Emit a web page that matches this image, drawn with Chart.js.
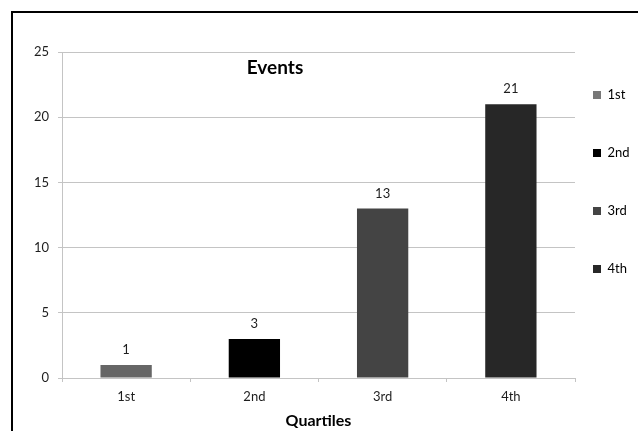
<!DOCTYPE html>
<html>
<head>
<meta charset="utf-8">
<script src="https://cdn.jsdelivr.net/npm/chart.js@4"></script>
<style>
  html, body { margin: 0; padding: 0; background: #fff; overflow: hidden; }
  #wrap { position: relative; width: 638px; height: 431px; overflow: hidden; }
  #frame { position: absolute; left: 11px; top: 11px; width: 700px; height: 500px;
           border: 2px solid #000; box-sizing: border-box; }
  canvas { position: absolute; left: 0; top: 0; }
</style>
</head>
<body>
<div id="wrap">
  <div id="frame"></div>
  <canvas id="chart" width="638" height="431"></canvas>
</div>
<script>
// Event counts per quartile
const quartiles = ['1st', '2nd', '3rd', '4th'];
const events = [1, 3, 13, 21];
const barColors = ['#666666', '#000000', '#444444', '#272727'];
const legendColors = ['#787878', '#000000', '#444444', '#272727'];
const yMin = 0;
const yMax = 25;
const yStep = 5;
const chartTitle = 'Events';
const xAxisTitle = 'Quartiles';

const FONT = 'Lato, "Liberation Sans", sans-serif';
const GRID = '#c4c4c4';
const TEXT = '#1e1e1e';

// Value printed above each bar
const valueLabels = {
  id: 'valueLabels',
  afterDatasetsDraw(chart) {
    const ctx = chart.ctx;
    const meta = chart.getDatasetMeta(0);
    ctx.save();
    ctx.font = '13px ' + FONT;
    ctx.fillStyle = TEXT;
    ctx.textAlign = 'center';
    ctx.textBaseline = 'middle';
    meta.data.forEach((bar, i) => {
      ctx.fillText(String(chart.data.datasets[0].data[i]), bar.x, bar.y - 15);
    });
    ctx.restore();
  }
};

// Chart title drawn inside the plot area
const innerTitle = {
  id: 'innerTitle',
  afterDatasetsDraw(chart) {
    const { ctx, chartArea } = chart;
    ctx.save();
    ctx.font = 'bold 19px ' + FONT;
    ctx.fillStyle = '#000';
    ctx.textAlign = 'center';
    ctx.textBaseline = 'middle';
    ctx.fillText(chartTitle, chartArea.left + 213, chartArea.top + 16);
    ctx.restore();
  }
};

// Legend sits close to the plot with widely spaced entries
const legendPlacement = {
  id: 'legendPlacement',
  afterLayout(chart) {
    const lg = chart.legend;
    const pad = lg.options.labels.padding;
    lg.left = chart.chartArea.right + 18 - pad;
    lg.top = chart.chartArea.top + 36.5 - pad;
  }
};

new Chart(document.getElementById('chart'), {
  type: 'bar',
  data: {
    labels: quartiles,
    datasets: [{
      label: chartTitle,
      data: events,
      backgroundColor: barColors,
      borderWidth: 0,
      categoryPercentage: 1.0,
      barPercentage: 0.4
    }]
  },
  options: {
    responsive: false,
    devicePixelRatio: 1,
    animation: false,
    layout: { padding: { top: 52, left: 0, right: 0, bottom: 0 } },
    plugins: {
      title: { display: false },
      tooltip: { enabled: false },
      legend: {
        display: true,
        position: 'right',
        align: 'start',
        maxWidth: 63,
        labels: {
          boxWidth: 8,
          boxHeight: 8,
          padding: 45,
          color: TEXT,
          font: { family: FONT, size: 13 },
          generateLabels: () => quartiles.map((q, i) => ({
            text: q,
            fillStyle: legendColors[i],
            strokeStyle: legendColors[i],
            lineWidth: 0,
            hidden: false,
            index: i
          }))
        }
      }
    },
    scales: {
      x: {
        grid: {
          offset: true,
          drawOnChartArea: false,
          drawTicks: true,
          tickLength: 4,
          color: GRID
        },
        border: { display: true, color: GRID, width: 1 },
        ticks: { color: TEXT, font: { family: FONT, size: 13 }, padding: 7 },
        title: {
          display: true,
          text: xAxisTitle,
          color: '#000',
          font: { family: FONT, size: 16, weight: 'bold' },
          padding: { top: 0, bottom: 1 }
        },
        afterFit(scale) { scale.height = 53; }
      },
      y: {
        min: yMin,
        max: yMax,
        ticks: { stepSize: yStep, color: TEXT, font: { family: FONT, size: 13 }, padding: 9 },
        grid: { color: GRID, lineWidth: 1, drawTicks: true, tickLength: 4 },
        border: { display: true, color: GRID, width: 1 },
        afterFit(scale) { scale.width = 62; }
      }
    }
  },
  plugins: [valueLabels, innerTitle, legendPlacement]
});
</script>
</body>
</html>
